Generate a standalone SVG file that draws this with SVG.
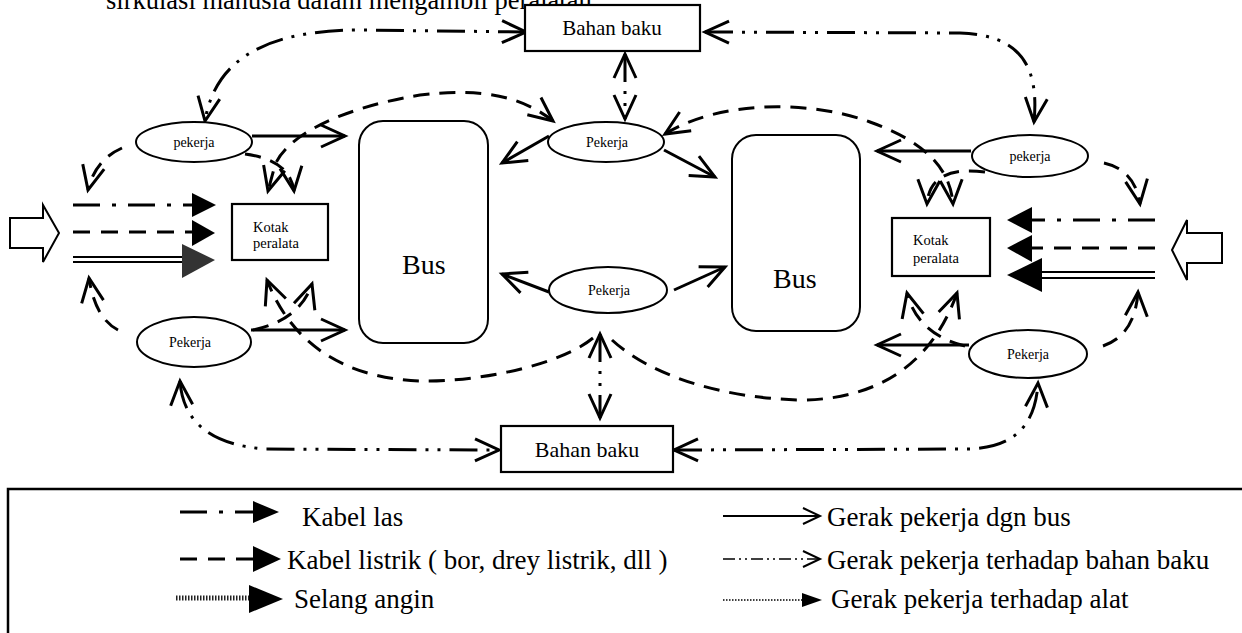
<svg xmlns="http://www.w3.org/2000/svg" width="1242" height="633" viewBox="0 0 1242 633">
  <style>
    text { font-family: "Liberation Serif", "Times New Roman", serif; fill: #000; }
    .box { fill: #fff; stroke: #000; stroke-width: 2.2; }
    .bus { fill: #fff; stroke: #000; stroke-width: 2; }
    .wk { fill: #fff; stroke: #000; stroke-width: 2; }
    .wkt { font-size: 14px; text-anchor: middle; }
    .c { fill: none; stroke: #000; stroke-width: 3; }
    .alat { stroke-dasharray: 16 10; }
    .bahan { stroke-dasharray: 28 9 3 9 3 9; }
    .las { fill: none; stroke: #000; stroke-width: 3; stroke-dasharray: 27 12 4 12; }
    .listrik { fill: none; stroke: #000; stroke-width: 3; stroke-dasharray: 17 11; }
    .angin { fill: none; stroke: #000; stroke-width: 2; }
    .head { fill: #000; }
    .hollow { fill: #fff; stroke: #000; stroke-width: 2; stroke-linejoin: miter; }
    .lg { font-size: 27px; }
  </style>
  <defs>
    <marker id="chev" markerUnits="userSpaceOnUse" orient="auto-start-reverse" refX="0" refY="0" markerWidth="60" markerHeight="60" overflow="visible">
      <path d="M-24,-11 L0,0 L-24,11" fill="none" stroke="#000" stroke-width="3" stroke-linejoin="miter"/>
    </marker>
    <marker id="chev-s" markerUnits="userSpaceOnUse" orient="auto" refX="0" refY="0" markerWidth="40" markerHeight="40" overflow="visible">
      <path d="M-17,-8 L0,0 L-17,8" fill="none" stroke="#000" stroke-width="2"/>
    </marker>
  </defs>

  <!-- running text of the page, cut by the top edge -->
  <text x="106" y="9" font-size="26.5px">sirkulasi manusia dalam mengambil peralatan.</text>

  <!-- connectors -->
  <g id="connectors">
    <!-- worker to bus -->
    <g class="c" marker-end="url(#chev)">
      <path d="M252,136 L345,136"/>
      <path d="M549,136 L502,163"/>
      <path d="M664,150 L715,177"/>
      <path d="M971,151 L877,151"/>
      <path d="M549,292 L502,274"/>
      <path d="M674,290 L725,267"/>
      <path d="M251,330 L345,330"/>
      <path d="M969,345 L877,345"/>
    </g>
    <!-- worker to raw material -->
    <g class="c bahan" marker-start="url(#chev)" marker-end="url(#chev)">
      <path d="M526,32 L360,30 C265,30 215,60 205,121"/>
      <path d="M705,32 L960,33 C1015,35 1040,60 1034,122"/>
      <path d="M625,54 L625,119"/>
      <path d="M600,334 L600,418"/>
      <path d="M180,381 C183,425 215,445 265,449 L499,450"/>
      <path d="M674,450 L970,449 C1010,447 1035,430 1038,383"/>
    </g>
    <!-- worker to tools, both ends -->
    <g class="c alat" marker-start="url(#chev)" marker-end="url(#chev)">
      <path d="M553,121 C520,95 480,88 420,95 C330,110 285,140 275,165 L268,191"/>
      <path d="M665,134 C720,100 810,100 870,122 C920,140 950,165 953,204"/>
    </g>
    <!-- worker to tools, one end -->
    <g class="c alat" marker-end="url(#chev)">
      <path d="M245,154 Q290,160 294,191"/>
      <path d="M985,172 Q930,165 927,204"/>
      <path d="M122,148 Q95,160 88,190"/>
      <path d="M1104,163 Q1135,170 1140,204"/>
      <path d="M118,330 Q95,318 89,278"/>
      <path d="M1103,346 Q1135,335 1138,292"/>
      <path d="M593,338 C560,365 480,382 420,381 C340,378 290,340 267,280"/>
      <path d="M612,340 C650,375 720,398 800,400 C870,400 930,370 957,293"/>
      <path d="M253,330 Q300,320 312,284"/>
      <path d="M965,346 C940,340 915,325 907,293"/>
    </g>
  </g>

  <!-- supply lines, left side -->
  <g id="supply-left">
    <polygon class="hollow" points="10,218 43,218 43,205 59,233 43,262 43,248 10,248"/>
    <path class="las" d="M73,205 L192,205"/>
    <polygon class="head" points="192,193 216,205 192,217"/>
    <path class="listrik" d="M73,232 L192,232"/>
    <polygon class="head" points="192,220 215,233 192,246"/>
    <path class="angin" d="M73,257 L185,257 M73,262 L185,262"/>
    <polygon fill="#333" points="182,244 215,260 182,278"/>
  </g>

  <!-- supply lines, right side -->
  <g id="supply-right">
    <polygon class="hollow" points="1222,233 1187,233 1187,220 1172,250 1187,280 1187,263 1222,263"/>
    <path class="las" d="M1155,220 L1032,220"/>
    <polygon class="head" points="1032,207 1007,220 1032,233"/>
    <path class="listrik" d="M1155,248 L1032,248"/>
    <polygon class="head" points="1032,235 1007,248 1032,262"/>
    <path class="angin" d="M1155,272 L1040,272 M1155,278 L1040,278"/>
    <polygon class="head" points="1042,258 1007,275 1042,292"/>
  </g>

  <!-- nodes -->
  <g id="bahan-baku-atas">
    <rect class="box" x="525" y="5" width="175" height="46"/>
    <text x="612" y="35" font-size="21px" text-anchor="middle">Bahan baku</text>
  </g>
  <g id="bahan-baku-bawah">
    <rect class="box" x="501" y="426" width="172" height="46"/>
    <text x="587" y="457" font-size="22px" text-anchor="middle">Bahan baku</text>
  </g>
  <g id="bus-kiri">
    <rect class="bus" x="359" y="121" width="129" height="222" rx="24"/>
    <text x="402" y="274" font-size="28px">Bus</text>
  </g>
  <g id="bus-kanan">
    <rect class="bus" x="732" y="135" width="128" height="196" rx="24"/>
    <text x="773" y="288" font-size="28px">Bus</text>
  </g>
  <g id="kotak-kiri">
    <rect class="box" x="232" y="204" width="96" height="56"/>
    <text x="253" y="232" font-size="14.5px">Kotak</text>
    <text x="253" y="248" font-size="14.5px">peralata</text>
  </g>
  <g id="kotak-kanan">
    <rect class="box" x="892" y="218" width="98" height="58"/>
    <text x="913" y="245" font-size="14.5px">Kotak</text>
    <text x="913" y="263" font-size="14.5px">peralata</text>
  </g>
  <g id="pekerja-kiri-atas">
    <ellipse class="wk" cx="194" cy="142" rx="58" ry="20"/>
    <text class="wkt" x="194" y="147">pekerja</text>
  </g>
  <g id="pekerja-tengah-atas">
    <ellipse class="wk" cx="606" cy="142" rx="58" ry="20"/>
    <text class="wkt" x="607" y="147">Pekerja</text>
  </g>
  <g id="pekerja-kanan-atas">
    <ellipse class="wk" cx="1030" cy="156" rx="58" ry="21"/>
    <text class="wkt" x="1030" y="161">pekerja</text>
  </g>
  <g id="pekerja-tengah">
    <ellipse class="wk" cx="608" cy="290" rx="59" ry="23"/>
    <text class="wkt" x="609" y="295">Pekerja</text>
  </g>
  <g id="pekerja-kiri-bawah">
    <ellipse class="wk" cx="194" cy="342" rx="57" ry="25"/>
    <text class="wkt" x="190" y="347">Pekerja</text>
  </g>
  <g id="pekerja-kanan-bawah">
    <ellipse class="wk" cx="1028" cy="354" rx="59" ry="24"/>
    <text class="wkt" x="1028" y="359">Pekerja</text>
  </g>

  <!-- legend -->
  <g id="keterangan">
    <path d="M8,633 L8,489 L1242,489" fill="none" stroke="#000" stroke-width="2.5"/>
    <path class="las" d="M180,512 L253,512"/>
    <polygon class="head" points="253,501 279,512 253,523"/>
    <text class="lg" x="302" y="526">Kabel las</text>
    <path class="listrik" d="M180,559 L253,559"/>
    <polygon class="head" points="253,546 281,559 253,572"/>
    <text class="lg" x="287" y="569">Kabel listrik ( bor, drey listrik, dll )</text>
    <path d="M176,598 L249,598" fill="none" stroke="#222" stroke-width="5" stroke-dasharray="1.5 1.5"/>
    <polygon class="head" points="249,585 283,599 249,613"/>
    <text class="lg" x="294" y="608">Selang angin</text>

    <path d="M723,516 L820,516" fill="none" stroke="#000" stroke-width="2" marker-end="url(#chev-s)"/>
    <text class="lg" x="827" y="526">Gerak pekerja dgn bus</text>
    <path d="M723,559 L820,559" fill="none" stroke="#000" stroke-width="1.6" stroke-dasharray="12 4 2 4 2 4" marker-end="url(#chev-s)"/>
    <text class="lg" x="827" y="569">Gerak pekerja terhadap bahan baku</text>
    <path d="M723,600 L803,600" fill="none" stroke="#000" stroke-width="1.5" stroke-dasharray="1.5 1.5"/>
    <polygon class="head" points="802,593 822,600 802,607"/>
    <text class="lg" x="831" y="608">Gerak pekerja terhadap alat</text>
  </g>
</svg>
